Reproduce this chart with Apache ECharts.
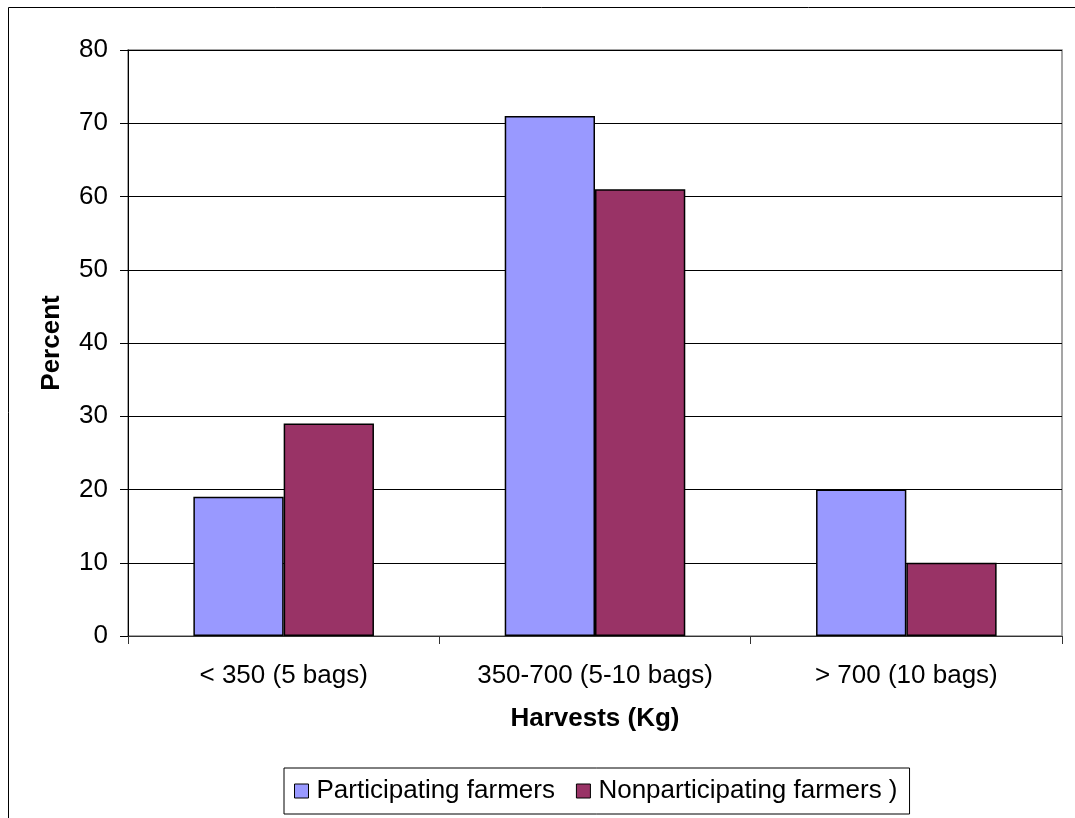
<!DOCTYPE html>
<html>
<head>
<meta charset="utf-8">
<script src="https://cdn.jsdelivr.net/npm/echarts@6/dist/echarts.min.js"></script>
<style>
  html, body { margin: 0; padding: 0; background: #fff; }
  #chart { width: 1075px; height: 818px; }
</style>
</head>
<body>
<div id="chart"></div>
<script>
// Harvest size categories and share of farmers in each (percent)
const categories = ['< 350 (5 bags)', '350-700 (5-10 bags)', '> 700 (10 bags)'];
const participating = [19, 71, 20];
const nonParticipating = [29, 61, 10];
const seriesNames = ['Participating farmers', 'Nonparticipating farmers )'];

const FONT = '"Liberation Sans", Arial, sans-serif';
const FS = 26;

const chart = echarts.init(document.getElementById('chart'), null, { renderer: 'canvas' });

chart.setOption({
  backgroundColor: '#ffffff',
  animation: false,
  textStyle: { fontFamily: FONT },
  graphic: [
    {
      // outer chart frame
      type: 'polyline',
      shape: { points: [[8.5, 818], [8.5, 7.5], [1075, 7.5]] },
      style: { stroke: '#000', lineWidth: 1, fill: null },
      silent: true
    }
  ],
  grid: {
    left: 128, top: 50, right: 13, bottom: 182,
    show: true, borderColor: '#888888', borderWidth: 1.5, backgroundColor: '#fff'
  },
  legend: {
    data: seriesNames,
    left: 284, top: 768,
    padding: [10, 12, 10, 10],
    borderColor: '#000', borderWidth: 1,
    itemWidth: 14, itemHeight: 14, itemGap: 21,
    icon: 'rect',
    itemStyle: { borderColor: '#000', borderWidth: 1 },
    textStyle: { fontSize: FS, color: '#000', fontFamily: FONT, padding: [0, 0, 0, 3] }
  },
  xAxis: {
    type: 'category',
    data: categories,
    name: 'Harvests (Kg)',
    nameLocation: 'middle',
    nameGap: 70,
    nameTextStyle: { fontSize: FS, fontWeight: 'bold', color: '#000', fontFamily: FONT },
    axisLine: { lineStyle: { color: '#333', width: 1 } },
    axisTick: { show: true, length: 8, lineStyle: { color: '#333' } },
    axisLabel: { fontSize: FS, color: '#000', margin: 27, fontFamily: FONT }
  },
  yAxis: {
    type: 'value',
    min: 0, max: 80, interval: 10,
    name: 'Percent',
    nameLocation: 'middle',
    nameGap: 63,
    nameTextStyle: { fontSize: FS, fontWeight: 'bold', color: '#000', fontFamily: FONT },
    axisLine: { show: true, lineStyle: { color: '#000', width: 1 } },
    axisTick: { show: true, length: 8, lineStyle: { color: '#000' } },
    axisLabel: { fontSize: FS, color: '#000', margin: 20, fontFamily: FONT },
    splitLine: { show: true, lineStyle: { color: '#000', width: 1 } }
  },
  series: [
    {
      name: seriesNames[0],
      type: 'bar',
      data: participating,
      barGap: '0%',
      barCategoryGap: '42%',
      itemStyle: { color: '#9999ff', borderColor: '#000', borderWidth: 1.5 }
    },
    {
      name: seriesNames[1],
      type: 'bar',
      data: nonParticipating,
      barGap: '0%',
      barCategoryGap: '42%',
      itemStyle: { color: '#993366', borderColor: '#000', borderWidth: 1.5 }
    }
  ]
});
</script>
</body>
</html>
